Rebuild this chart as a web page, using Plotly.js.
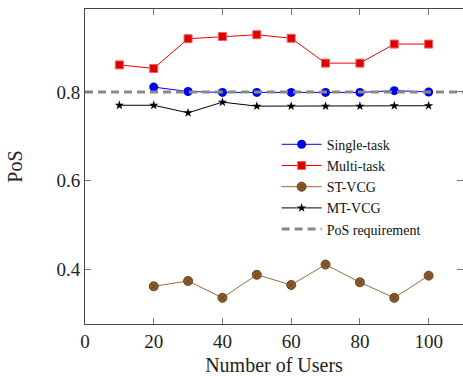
<!DOCTYPE html>
<html>
<head>
<meta charset="utf-8">
<script src="https://cdn.plot.ly/plotly-3.0.1.min.js"></script>
<style>html,body{margin:0;padding:0;background:#fff;}#chart{width:463px;height:376px;}</style>
</head>
<body>
<div id="chart"></div>
<script>
const usersA = [20, 30, 40, 50, 60, 70, 80, 90, 100];
const usersB = [10, 20, 30, 40, 50, 60, 70, 80, 90, 100];
const singleTask = [0.811, 0.801, 0.799, 0.799, 0.799, 0.799, 0.799, 0.803, 0.800];
const multiTask = [0.861, 0.853, 0.920, 0.925, 0.929, 0.921, 0.865, 0.865, 0.908, 0.908];
const stVCG = [0.362, 0.374, 0.336, 0.388, 0.365, 0.411, 0.371, 0.336, 0.386];
const mtVCG = [0.770, 0.770, 0.753, 0.777, 0.768, 0.768, 0.768, 0.768, 0.769, 0.769];
const posRequirement = 0.8;
const xRange = [0, 110];
const yRange = [0.277, 0.987];
const xTicks = [0, 20, 40, 60, 80, 100];
const yTicks = [0.4, 0.6, 0.8];

const serif = "'Liberation Serif', 'Times New Roman', serif";

const traces = [
  {x: usersA, y: singleTask, name: "Single-task", mode: "lines+markers", legendgroup: "a",
   line: {color: "#0000ee", width: 1}, marker: {symbol: "circle", size: 9, color: "#0000ee"}},
  {x: usersB, y: multiTask, name: "Multi-task", mode: "lines+markers", legendgroup: "b",
   line: {color: "#ee0000", width: 1}, marker: {symbol: "square", size: 8, color: "#dd0000", line: {color: "#f06060", width: 1}}},
  {x: usersA, y: stVCG, name: "ST-VCG", mode: "lines+markers", legendgroup: "c",
   line: {color: "#9a6a3a", width: 1}, marker: {symbol: "circle-x", size: 9, color: "#8c5a2b", line: {color: "#6e4420", width: 1}}},
  {x: usersB, y: mtVCG, name: "MT-VCG", mode: "lines+markers", legendgroup: "d",
   line: {color: "#000000", width: 1}, marker: {symbol: "star", size: 7, color: "#000000"}},
  {x: xRange, y: [posRequirement, posRequirement], name: "PoS requirement", mode: "lines", legendgroup: "e",
   line: {color: "#888888", width: 3, dash: "8px,5px"}}
];

const layout = {
  width: 463, height: 376,
  margin: {l: 85, r: 0, t: 9, b: 52},
  paper_bgcolor: "#fff", plot_bgcolor: "#fff",
  font: {family: serif, color: "#222"},
  showlegend: true,
  legend: {x: 0.507, y: 0.62, xanchor: "left", yanchor: "top", bgcolor: "rgba(0,0,0,0)",
           font: {family: serif, size: 14, color: "#111"}, traceorder: "grouped", tracegroupgap: 0,
           itemwidth: 40},
  xaxis: {range: xRange, tickvals: xTicks, ticks: "inside", ticklen: 6, tickcolor: "#777",
          showline: true, linecolor: "#444", linewidth: 1, mirror: "ticks", showgrid: false, zeroline: false,
          tickfont: {family: serif, size: 19, color: "#222"},
          title: {text: "Number of Users", font: {family: serif, size: 20, color: "#222"}, standoff: 8}},
  yaxis: {range: yRange, tickvals: yTicks, ticktext: ["0.4", "0.6", "0.8"], ticks: "inside", ticklen: 6, tickcolor: "#777",
          showline: true, linecolor: "#444", linewidth: 1, mirror: "ticks", showgrid: false, zeroline: false,
          tickfont: {family: serif, size: 19, color: "#222"},
          title: {text: "PoS", font: {family: serif, size: 20, color: "#222"}, standoff: 28}}
};

Plotly.newPlot("chart", traces, layout, {displayModeBar: false, staticPlot: true});
</script>
</body>
</html>
